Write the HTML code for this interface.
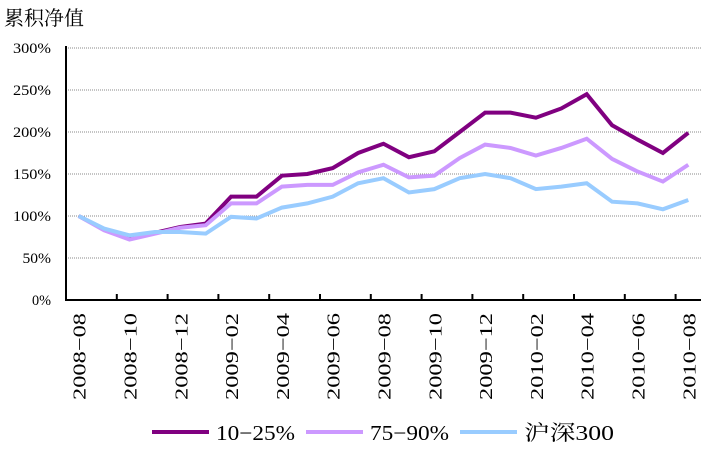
<!DOCTYPE html>
<html><head><meta charset="utf-8"><style>
body{margin:0;background:#fff;width:711px;height:447px;overflow:hidden}
svg text{font-family:"Liberation Serif","Noto Serif CJK SC",serif;fill:#000}
</style></head><body>
<svg id="c" width="711" height="447">
<text x="4" y="25" font-size="20" textLength="80" lengthAdjust="spacingAndGlyphs">累积净值</text>
</svg>
<script>
const categories=["2008-08","2008-09","2008-10","2008-11","2008-12","2009-01","2009-02","2009-03","2009-04","2009-05","2009-06","2009-07","2009-08","2009-09","2009-10","2009-11","2009-12","2010-01","2010-02","2010-03","2010-04","2010-05","2010-06","2010-07","2010-08"];
const seriesA=[100,84,73,80,87,91,123,123,148,150,157,175,186,170,177,200,223,223,217,228,245,208,191,175,199];
const seriesB=[100,83,72,79,86,89,115,115,135,137,137,152,161,146,148,169,185,181,172,181,192,168,153,141,161];
const seriesC=[100,85,77,81,81,79,99,97,110,115,123,139,145,128,132,145,150,145,132,135,139,117,115,108,119];
const yTicks=[0,50,100,150,200,250,300];
const seriesNames=["10−25%","75−90%","沪深300"];
const colors=["#800080","#cc99ff","#99ccff"];
const svg=document.getElementById('c');const NS="http://www.w3.org/2000/svg";
const X0=66,X1=701,Y0=300,Y1=48,bw=(X1-X0)/categories.length;
const xs=i=>X0+bw*(i+0.5), ys=v=>Y0-(v/300)*(Y0-Y1);
function mk(t,a){const e=document.createElementNS(NS,t);for(const k in a)e.setAttribute(k,a[k]);svg.appendChild(e);return e;}
yTicks.forEach(v=>{
 if(v>0){const g=mk('line',{x1:X0,x2:X1,y1:ys(v),y2:ys(v),stroke:'#888','stroke-width':1,'stroke-dasharray':'1,1'});
 
 }
 const s=v+'%';
 const t=mk('text',{x:X0-15,y:ys(v)+5,'text-anchor':'end','font-size':15,textLength:s.length*9.5,lengthAdjust:'spacingAndGlyphs'});t.textContent=s;
 
 
});
const ya=mk('line',{x1:X0,x2:X0,y1:Y1-2,y2:Y0+1,stroke:'#000','stroke-width':2});


const xa=mk('line',{x1:X0-1,x2:X1,y1:Y0,y2:Y0,stroke:'#000','stroke-width':2});


for(let i=2;i<categories.length;i+=2){const tk=mk('line',{x1:X0+bw*i,x2:X0+bw*i,y1:Y0,y2:Y0-6,stroke:'#000','stroke-width':2});
 
 }
categories.forEach((c,i)=>{if(i%2)return;
 const t=mk('text',{x:0,y:0,'text-anchor':'end','font-size':18,textLength:87,lengthAdjust:'spacingAndGlyphs',transform:`translate(${xs(i)+7},${Y0+13}) rotate(-90)`});t.textContent=c.replace('-','−');
 
 });
[seriesA,seriesB,seriesC].forEach((s,k)=>{
 const p=mk('polyline',{points:s.map((v,i)=>xs(i)+','+ys(v)).join(' '),fill:'none',stroke:colors[k],'stroke-width':4,'stroke-linejoin':'miter'});
 
 
});
const lx=[152,306,460];
const lw=[79,79,90];
seriesNames.forEach((n,k)=>{
 const l=mk('line',{x1:lx[k],x2:lx[k]+57,y1:432,y2:432,stroke:colors[k],'stroke-width':4});
 
 
 const t=mk('text',{x:lx[k]+64,y:440,'font-size':21,textLength:lw[k],lengthAdjust:'spacingAndGlyphs'});t.textContent=n;
 
 
});
</script>
</body></html>
